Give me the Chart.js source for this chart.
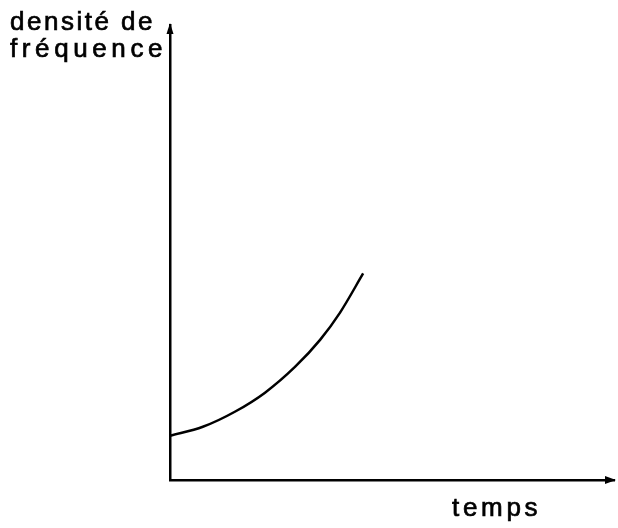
<!DOCTYPE html>
<html lang="fr">
<head>
    <meta charset="UTF-8">
    <title>densité de fréquence</title>
    <script src="https://cdn.jsdelivr.net/npm/chart.js"></script>
    <style>
        html, body { margin: 0; padding: 0; background: #fff; }
        .chart-container { width: 618px; height: 528px; }
    </style>
</head>
<body>
    <div class="chart-container">
        <canvas id="densityGraph"></canvas>
    </div>

    <script>
        // curve (time, density), arbitrary units 0..100
        const temps = [0, 7.4, 14.6, 21.4, 28.2, 33.8, 38.3, 43.5];
        const densite = [9.7, 11.7, 15.0, 19.2, 24.9, 30.8, 36.8, 45.4];

        const yLabel = ['densité de', 'fréquence'];
        const xLabel = 'temps';

        const points = temps.map((t, i) => ({ x: t, y: densite[i] }));

        // wide lettering like the plotter text of the original
        function drawLabel(c, text, x, y, spacing) {
            c.letterSpacing = spacing + 'px';
            c.fillText(text, x, y);
            c.strokeText(text, x, y);
        }

        const axisArrows = {
            id: 'axisArrows',
            afterDraw(chart) {
                const c = chart.ctx;
                const xs = chart.scales.x, ys = chart.scales.y;
                const x0 = xs.getPixelForValue(0), y0 = ys.getPixelForValue(0);
                const xEnd = xs.getPixelForValue(100), yEnd = ys.getPixelForValue(100);
                c.save();
                c.fillStyle = '#000';
                c.strokeStyle = '#000';
                // x arrow
                c.beginPath();
                c.moveTo(xEnd + 2, y0);
                c.lineTo(xEnd - 9, y0 - 4);
                c.lineTo(xEnd - 9, y0 + 4);
                c.closePath();
                c.fill();
                // y arrow
                c.beginPath();
                c.moveTo(x0, yEnd - 2);
                c.lineTo(x0 - 3.5, yEnd + 9);
                c.lineTo(x0 + 3.5, yEnd + 9);
                c.closePath();
                c.fill();

                c.font = '26px "Liberation Sans", Arial, sans-serif';
                c.textAlign = 'left';
                c.textBaseline = 'alphabetic';
                c.lineWidth = 0.7;
                drawLabel(c, yLabel[0], 10, 30, 2.5);
                drawLabel(c, yLabel[1], 10, 57, 4.6);
                drawLabel(c, xLabel, 452, 516, 3.7);
                c.restore();
            }
        };

        const ctx = document.getElementById('densityGraph').getContext('2d');

        new Chart(ctx, {
            type: 'line',
            data: {
                datasets: [{
                    data: points,
                    borderColor: '#000',
                    borderWidth: 2.5,
                    pointRadius: 0,
                    cubicInterpolationMode: 'monotone',
                    fill: false
                }]
            },
            options: {
                responsive: true,
                maintainAspectRatio: false,
                animation: false,
                layout: { padding: { left: 162, top: 25, right: 4, bottom: 40 } },
                plugins: {
                    legend: { display: false },
                    tooltip: { enabled: false }
                },
                scales: {
                    x: {
                        type: 'linear', min: 0, max: 100,
                        grid: { display: false },
                        ticks: { display: false },
                        border: { display: true, color: '#000', width: 2.5 }
                    },
                    y: {
                        type: 'linear', min: 0, max: 100,
                        grid: { display: false },
                        ticks: { display: false },
                        border: { display: true, color: '#000', width: 2.5 }
                    }
                }
            },
            plugins: [axisArrows]
        });
    </script>
</body>
</html>
